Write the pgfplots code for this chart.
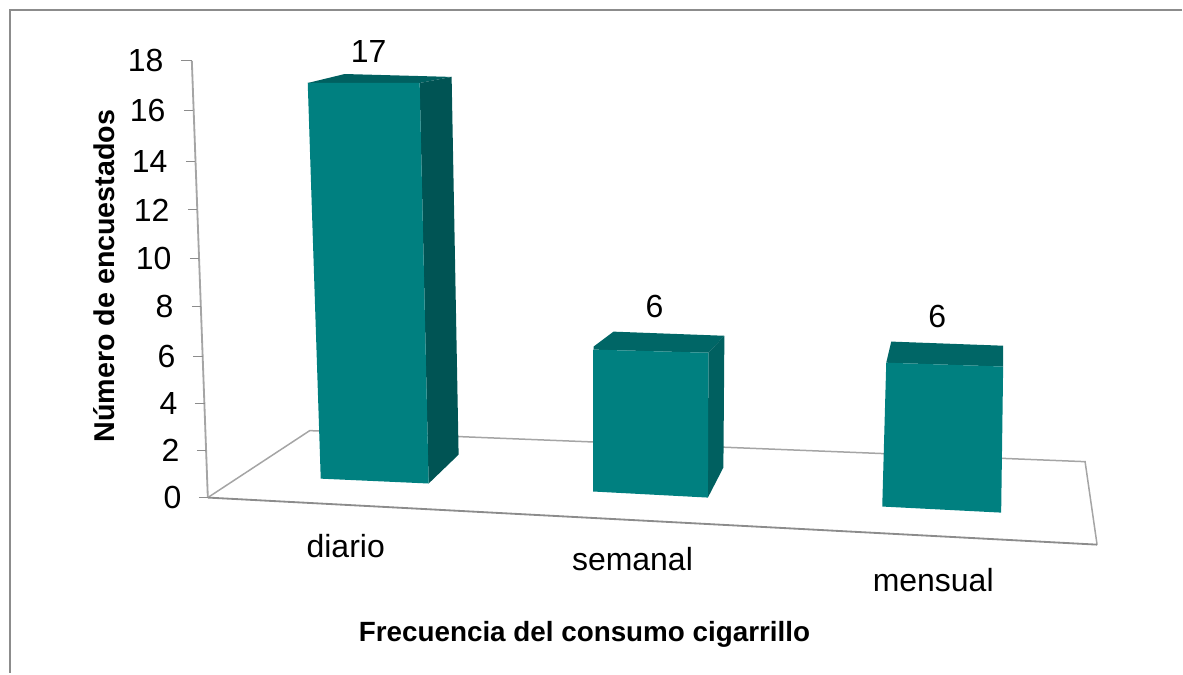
\documentclass[border=0pt]{standalone}
\usepackage{fontspec}
\setmainfont{Liberation Sans}
\usepackage{pgfplots}
\pgfplotsset{compat=1.18}
\definecolor{front}{RGB}{0,128,128}
\definecolor{sideA}{RGB}{0,84,84}
\definecolor{sideB}{RGB}{0,96,96}
\definecolor{topA}{RGB}{0,96,96}
\definecolor{topB}{RGB}{0,102,102}
\definecolor{frameg}{RGB}{140,140,140}
\definecolor{wallg}{RGB}{165,165,165}
\newcommand{\tl}[2]{#1\hspace*{#2pt}}
\begin{document}
\begin{tikzpicture}
\begin{axis}[
  scale only axis, width=709.8pt, height=404.4pt,
  xmin=0, xmax=1183, ymin=-7.249, ymax=20.511,
  axis line style={draw=none},
  clip=false, no markers,
  major tick length=0pt,
  tick style={draw=none},
  ytick={0,1.94,3.87,5.81,7.87,9.84,11.86,13.84,15.94,18},
  yticklabels={{\tl{0}{0}},{\tl{2}{1.2}},{\tl{4}{2.4}},{\tl{6}{3.6}},{\tl{8}{4.8}},{\tl{10}{6}},{\tl{12}{7.2}},{\tl{14}{8.4}},{\tl{16}{9.6}},{\tl{18}{10.8}}},
  yticklabel style={anchor=east, inner sep=0pt, xshift=109.2pt, font=\fontsize{19.2}{22}\selectfont},
  xtick={346,633,934},
  xticklabels={{\raisebox{20.4pt}{diario}},{\raisebox{12.6pt}{semanal}},{mensual}},
  xticklabel style={anchor=base, inner sep=0pt, yshift=49.2pt, font=\fontsize{19.2}{22}\selectfont},
  xlabel={Frecuencia del consumo cigarrillo},
  xlabel style={at={(axis description cs:0.4945,0.0575)}, anchor=center, font=\bfseries\fontsize{16.7}{20}\selectfont},
  ylabel={Número de encuestados},
  ylabel style={at={(axis description cs:0.0885,0.59)}, anchor=center, rotate=0, font=\bfseries\fontsize{17.2}{20}\selectfont},
]
% outer frame (top and left only)
\addplot[frameg, line width=1.2pt] coordinates {(1183,20.10) (10,20.10) (10,-7.249)};
% floor
\addplot[wallg, line width=0.9pt] coordinates {(208,0) (310,2.76) (1086,1.48) (1098,-1.94)};
\addplot[frameg, line width=1.1pt] coordinates {(208,0) (1098,-1.94)};
% tilted value axis
\addplot[wallg, line width=1.1pt] coordinates {(192,18) (208,0)};
\addplot[frameg, line width=0.7pt, unbounded coords=jump] coordinates {
 (181,18) (192,18) (0,nan)
 (184,15.94) (193,15.94) (0,nan)
 (186,13.84) (195,13.84) (0,nan)
 (188,11.86) (197,11.86) (0,nan)
 (190,9.84) (199,9.84) (0,nan)
 (192,7.87) (201,7.87) (0,nan)
 (193.5,5.81) (203,5.81) (0,nan)
 (195,3.87) (205,3.87) (0,nan)
 (197,1.94) (206,1.94) (0,nan)
 (199,0) (208,0)};
% bar diario
\addplot[fill=topA, draw=none] coordinates {(308,17.09) (345,17.46) (452,17.34) (420,17.09) (308,17.09)};
\addplot[fill=sideA, draw=none] coordinates {(420,17.09) (452,17.34) (459,1.77) (429,0.58) (420,17.09)};
\addplot[fill=front, draw=none] coordinates {(308,17.09) (420,17.09) (429,0.58) (321,0.78) (308,17.09)};
% bar semanal
\addplot[fill=topB, draw=none] coordinates {(594,6.22) (614,6.84) (725,6.67) (709,5.97) (594,6.10) (594,6.22)};
\addplot[fill=sideB, draw=none] coordinates {(709,5.97) (725,6.67) (724,1.24) (708.5,0) (709,5.97)};
\addplot[fill=front, draw=none] coordinates {(593.5,6.10) (709,5.97) (708.5,0) (593.5,0.25) (593.5,6.10)};
% bar mensual
\addplot[fill=topB, draw=none] coordinates {(887,5.56) (892,6.43) (1004,6.26) (1004,5.40) (887,5.56)};
\addplot[fill=front, draw=none] coordinates {(887,5.56) (1004,5.40) (1002,-0.62) (883,-0.37) (887,5.56)};
% value labels
\addplot[draw=none, mark=none, point meta=explicit,
  /pgf/number format/assume math mode=true,
  nodes near coords,
  every node near coord/.style={anchor=center, inner sep=0pt, black, font=\fontsize{19.2}{22}\selectfont}]
  coordinates {(369,18.37) [17] (655,7.87) [6] (938,7.45) [6]};
\end{axis}
\end{tikzpicture}
\end{document}
